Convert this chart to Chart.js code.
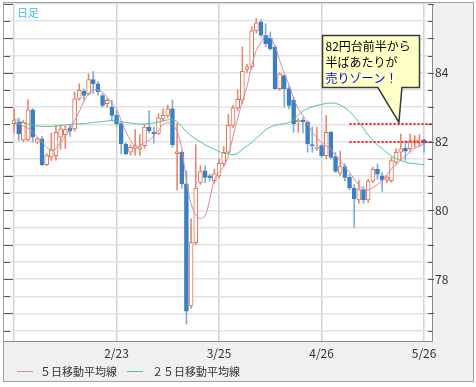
<!DOCTYPE html>
<html>
<head>
<meta charset="utf-8">
<script src="https://cdn.jsdelivr.net/npm/chart.js@4.4.0/dist/chart.umd.min.js"></script>
<style>
  html, body { margin: 0; padding: 0; background: #fff; }
</style>
</head>
<body>
<canvas id="usdjpy" width="476" height="387"></canvas>
<script>
// daily candles, 1/24 .. 5/26
const openP = [
  82.52, 82.56, 82.05, 82.05, 82.92, 81.98, 82.08, 81.33, 81.55, 81.59,
  82.13, 82.20, 82.40, 82.37, 83.24, 83.47, 83.39, 83.80, 83.68, 83.34,
  83.10, 83.00, 82.76, 82.52, 81.93, 81.69, 81.80, 81.78, 81.88, 82.42,
  82.27, 82.24, 82.66, 82.76, 82.95, 81.65, 81.69, 80.77, 77.22, 79.06,
  80.81, 81.15, 81.00, 80.86, 81.00, 81.35, 81.69, 82.47, 82.98, 83.20,
  84.10, 84.17, 85.22, 85.48, 85.09, 85.00, 84.75, 83.54, 83.92, 83.54,
  83.20, 82.57, 82.62, 82.56, 81.91, 81.80, 81.88, 81.59, 82.27, 81.56,
  81.08, 81.27, 80.96, 80.65, 80.30, 80.60, 80.30, 80.85, 81.20, 81.00,
  80.88, 80.86, 81.40, 81.69, 81.80, 81.79, 81.98, 81.95, 82.05
];
const highP = [
  82.96, 82.69, 82.62, 83.22, 82.96, 82.12, 82.15, 81.65, 82.25, 82.47,
  82.47, 82.45, 82.47, 83.44, 83.68, 83.53, 83.97, 84.04, 83.75, 83.40,
  83.25, 83.20, 82.90, 82.55, 81.96, 81.90, 82.35, 82.20, 82.50, 82.90,
  82.42, 82.81, 82.95, 83.06, 83.21, 82.53, 81.72, 81.15, 79.75, 81.91,
  81.30, 81.30, 81.05, 81.20, 81.50, 81.85, 82.80, 83.05, 83.49, 84.75,
  84.25, 85.34, 85.58, 85.55, 85.43, 85.19, 84.80, 84.00, 83.95, 83.63,
  83.29, 82.67, 82.70, 82.60, 82.42, 82.42, 81.92, 82.76, 82.30, 81.69,
  81.72, 81.35, 81.05, 80.75, 80.88, 80.70, 80.90, 81.25, 81.35, 81.10,
  81.00, 81.54, 81.79, 82.22, 82.03, 82.22, 82.17, 82.20, 82.08
];
const lowP = [
  82.26, 82.03, 82.00, 82.02, 81.98, 81.93, 81.30, 81.30, 81.45, 81.46,
  81.78, 81.80, 82.15, 82.30, 83.20, 83.20, 83.35, 83.40, 83.35, 83.00,
  83.00, 82.60, 82.45, 81.64, 81.62, 81.60, 81.60, 81.60, 81.80, 82.25,
  81.95, 82.20, 82.60, 82.70, 81.84, 80.59, 80.64, 76.69, 77.15, 79.00,
  80.75, 80.80, 80.85, 80.80, 80.95, 81.30, 81.65, 82.40, 82.90, 83.10,
  84.00, 84.10, 85.15, 85.04, 84.75, 84.65, 83.52, 83.49, 83.00, 82.95,
  82.27, 82.27, 82.25, 81.69, 81.69, 81.74, 81.54, 81.50, 81.50, 81.10,
  81.00, 80.85, 80.60, 79.50, 80.20, 80.20, 80.22, 80.80, 80.90, 80.55,
  80.80, 80.81, 81.35, 81.45, 81.45, 81.70, 81.83, 81.85, 81.69
];
const closeP = [
  82.61, 82.22, 82.56, 82.92, 82.13, 82.08, 81.33, 81.59, 81.75, 82.27,
  82.37, 82.35, 82.30, 83.24, 83.49, 83.34, 83.80, 83.68, 83.45, 83.05,
  83.20, 82.76, 82.52, 81.93, 81.64, 81.83, 81.88, 81.85, 82.42, 82.32,
  82.22, 82.69, 82.76, 82.95, 81.91, 81.70, 80.77, 77.07, 79.06, 80.65,
  81.13, 80.96, 80.95, 81.06, 81.37, 81.69, 82.47, 82.98, 83.23, 84.05,
  84.17, 85.22, 85.45, 85.09, 84.85, 84.70, 83.54, 83.97, 83.54, 83.05,
  82.52, 82.62, 82.57, 81.93, 81.87, 81.85, 81.59, 82.27, 81.54, 81.13,
  81.27, 80.96, 80.65, 80.33, 80.60, 80.30, 80.85, 81.20, 81.05, 80.88,
  80.95, 81.45, 81.69, 81.79, 81.72, 82.03, 82.03, 82.05, 81.95
];
const ma5 = [
  82.56, 82.52, 82.45, 82.39, 82.29, 82.13, 81.99, 81.83, 81.76, 81.80,
  81.97, 82.15, 82.36, 82.61, 82.87, 83.17, 83.38, 83.50, 83.50, 83.44,
  83.28, 83.12, 82.95, 82.61, 82.29, 82.03, 81.84, 81.88, 81.97, 82.04,
  82.17, 82.32, 82.50, 82.55, 82.51, 82.29, 81.80, 80.86, 80.19, 79.87,
  79.76, 79.84, 80.31, 80.89, 81.10, 81.27, 81.59, 82.15, 82.67, 83.17,
  83.60, 84.22, 84.65, 84.89, 85.08, 85.03, 84.78, 84.36, 83.98, 83.66,
  83.27, 82.96, 82.76, 82.54, 82.26, 82.12, 81.97, 81.88, 81.78, 81.59,
  81.45, 81.27, 81.11, 80.91, 80.73, 80.60, 80.60, 80.66, 80.75, 80.86,
  81.04, 81.21, 81.33, 81.46, 81.58, 81.69, 81.80, 81.87, 81.93
];
const ma25 = [
  82.67, 82.60, 82.55, 82.51, 82.48, 82.45, 82.44, 82.44, 82.44, 82.45,
  82.47, 82.48, 82.50, 82.51, 82.52, 82.52, 82.54, 82.55, 82.57, 82.58,
  82.60, 82.61, 82.60, 82.58, 82.55, 82.54, 82.52, 82.51, 82.51, 82.52,
  82.54, 82.57, 82.60, 82.63, 82.63, 82.58, 82.44, 82.28, 82.17, 82.07,
  81.99, 81.90, 81.84, 81.77, 81.71, 81.66, 81.64, 81.62, 81.66, 81.77,
  81.87, 81.97, 82.10, 82.22, 82.34, 82.42, 82.47, 82.50, 82.52, 82.55,
  82.63, 82.76, 82.89, 82.96, 83.01, 83.05, 83.08, 83.11, 83.12, 83.11,
  83.06, 82.98, 82.87, 82.73, 82.57, 82.38, 82.19, 82.03, 81.90, 81.80,
  81.68, 81.58, 81.50, 81.45, 81.40, 81.37, 81.36, 81.34, 81.33
];

const gridIdx = [0, 22, 44, 66, 88];
const xTickLabels = ['', '2/23', '3/25', '4/26', '5/26'];
const yTickLabels = [78, 80, 82, 84];
const seriesNames = ['５日移動平均線', '２５日移動平均線'];

// sell zone note
const zoneLevels = [82.5, 82.0];
const zoneFrom = 72;
const notePoint = [82.6, 82.56];
const noteLines = ['82円台前半から', '半ばあたりが', '売りゾーン！'];

const UP = '#e2714f', UP_WICK = '#e98a70';
const DOWN = '#3b7fc2', DOWN_WICK = '#7eb0db';
const PINK = '#d88aa8', GREEN = '#4fc68e';
const JP = '"Noto Sans CJK JP", sans-serif';

const idx = closeP.map((_, i) => i);
const isUp = idx.map(i => closeP[i] >= openP[i]);

const noPad = s => { s.paddingTop = 0; s.paddingBottom = 0; s.paddingLeft = 0; s.paddingRight = 0; };

const decorations = {
  id: 'decorations',
  beforeDraw(chart) {
    const { ctx, chartArea: a } = chart;
    ctx.save();
    ctx.fillStyle = '#fff';
    ctx.fillRect(0, 0, chart.width, chart.height);
    ctx.fillStyle = '#f0f0f0';
    ctx.fillRect(3.5, 2.5, 470, 379);
    ctx.strokeStyle = '#a0a0a0';
    ctx.lineWidth = 1;
    ctx.strokeRect(3.5, 2.5, 470, 379);
    ctx.fillStyle = '#fff';
    ctx.fillRect(a.left, a.top, a.right - a.left, a.bottom - a.top);
    ctx.restore();
  },
  afterDatasetsDraw(chart) {
    const { ctx, chartArea: a } = chart;
    const xs = chart.scales.x, ys = chart.scales.y;
    ctx.save();

    // red dotted zone lines
    ctx.strokeStyle = '#ff1a1a';
    ctx.lineWidth = 2;
    ctx.setLineDash([2, 2]);
    zoneLevels.forEach(lv => {
      const y = Math.round(ys.getPixelForValue(lv));
      ctx.beginPath();
      ctx.moveTo(xs.getPixelForValue(zoneFrom), y);
      ctx.lineTo(a.right, y);
      ctx.stroke();
    });
    ctx.setLineDash([]);

    // callout
    const tx = xs.getPixelForValue(notePoint[0]);
    const ty = ys.getPixelForValue(notePoint[1]);
    const bx = Math.round(tx - 77) + 0.5, by = Math.round(ty - 87) + 0.5;
    const bw = 97, bh = 52;
    ctx.beginPath();
    ctx.moveTo(bx, by);
    ctx.lineTo(bx + bw, by);
    ctx.lineTo(bx + bw, by + bh);
    ctx.lineTo(tx + 3, by + bh);
    ctx.lineTo(tx, ty);
    ctx.lineTo(tx - 21, by + bh);
    ctx.lineTo(bx, by + bh);
    ctx.closePath();
    ctx.fillStyle = '#ffffc6';
    ctx.fill();
    ctx.strokeStyle = '#3a3a3a';
    ctx.lineWidth = 1.5;
    ctx.stroke();

    ctx.font = '12px ' + JP;
    ctx.textBaseline = 'middle';
    ctx.textAlign = 'left';
    noteLines.forEach((t, k) => {
      ctx.fillStyle = k === 2 ? '#0000ff' : '#000';
      ctx.fillText(t, bx + 3, by + 11 + k * 16);
    });
    ctx.restore();
  },
  afterDraw(chart) {
    const { ctx, chartArea: a } = chart;
    const ys = chart.scales.y;
    ctx.save();

    // inward tick marks on both edges
    ctx.strokeStyle = '#555';
    ctx.lineWidth = 1;
    ys.ticks.forEach(t => {
      const y = Math.round(ys.getPixelForValue(t.value)) + 0.5;
      const major = Math.abs(t.value - Math.round(t.value)) < 1e-6;
      ctx.beginPath();
      ctx.moveTo(a.left, y);
      ctx.lineTo(a.left + (major ? 9 : 6), y);
      ctx.moveTo(a.right - 4, y);
      ctx.lineTo(a.right + (major ? 2 : 0), y);
      ctx.stroke();
    });

    // chart type label
    ctx.font = '11px ' + JP;
    ctx.fillStyle = '#3cbff0';
    ctx.textBaseline = 'middle';
    ctx.fillText('日足', 17, 13);

    // legend
    const legendY = 371.5;
    const items = [[PINK, 17, 40], [GREEN, 127, 152]];
    ctx.font = '11px ' + JP;
    items.forEach(([col, lx, tx], k) => {
      ctx.strokeStyle = col;
      ctx.beginPath();
      ctx.moveTo(lx, legendY);
      ctx.lineTo(lx + 16, legendY);
      ctx.stroke();
      ctx.fillStyle = '#333';
      ctx.fillText(seriesNames[k], tx, legendY);
    });
    ctx.restore();
  }
};

new Chart(document.getElementById('usdjpy'), {
  data: {
    datasets: [
      {
        type: 'bar',
        label: 'wick',
        data: idx.map(i => ({ x: i, y: [lowP[i], highP[i]] })),
        backgroundColor: isUp.map(u => u ? UP_WICK : DOWN_WICK),
        barThickness: 1,
        grouped: false,
        order: 3
      },
      {
        type: 'bar',
        label: 'body',
        data: idx.map(i => ({ x: i, y: [openP[i], closeP[i]] })),
        backgroundColor: isUp.map(u => u ? '#ffffff' : DOWN),
        borderColor: isUp.map(u => u ? UP : DOWN),
        borderWidth: 1,
        borderSkipped: false,
        barThickness: 4,
        minBarLength: 1,
        grouped: false,
        order: 2
      },
      {
        type: 'line',
        label: seriesNames[1],
        data: idx.map(i => ({ x: i, y: ma25[i] })),
        borderColor: GREEN,
        borderWidth: 1,
        pointRadius: 0,
        tension: 0.3,
        order: 1
      },
      {
        type: 'line',
        label: seriesNames[0],
        data: idx.map(i => ({ x: i, y: ma5[i] })),
        borderColor: PINK,
        borderWidth: 1,
        pointRadius: 0,
        tension: 0.3,
        order: 0
      }
    ]
  },
  options: {
    responsive: false,
    animation: false,
    layout: { padding: { left: 4, top: 4, right: 0, bottom: 0 } },
    plugins: {
      legend: { display: false },
      tooltip: { enabled: false }
    },
    scales: {
      x: {
        type: 'linear',
        offset: false,
        min: -2.15,
        max: 89.7,
        afterBuildTicks: s => { s.ticks = gridIdx.map(v => ({ value: v })); },
        afterFit: s => { s.height = 46; noPad(s); },
        grid: { color: '#d2d2d2', lineWidth: 1.5, drawTicks: false, offset: false },
        border: { color: '#8c8c8c' },
        ticks: {
          autoSkip: false,
          maxRotation: 0,
          padding: 5,
          color: '#333',
          font: { family: JP, size: 12 },
          callback: (v, i) => xTickLabels[i]
        }
      },
      y: {
        position: 'right',
        min: 76.2,
        max: 86.0,
        afterFit: s => { s.width = 44; noPad(s); },
        grid: { color: '#e2e2e2', lineWidth: 1.5, drawTicks: false },
        border: { color: '#8c8c8c' },
        ticks: {
          stepSize: 0.5,
          includeBounds: false,
          autoSkip: false,
          padding: 3,
          color: '#333',
          font: { family: JP, size: 12 },
          callback: v => yTickLabels.some(t => Math.abs(t - v) < 1e-6) ? String(v) : ''
        }
      }
    }
  },
  plugins: [decorations]
});
</script>
</body>
</html>
